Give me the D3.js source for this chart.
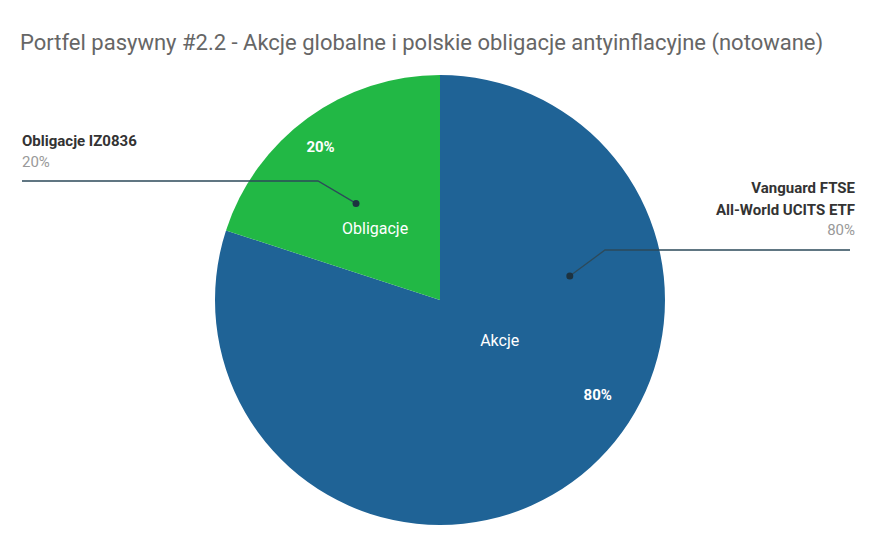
<!DOCTYPE html>
<html><head><meta charset="utf-8">
<script src="https://cdn.jsdelivr.net/npm/d3@7"></script>
<style>body{margin:0;background:#fff}text{font-family:Roboto,sans-serif}</style>
</head><body>
<svg id="chart" width="880" height="540"></svg>
<script>
// chart data
const categories = ["Akcje", "Obligacje"];
const values = [80, 20];
const legendNames = [["Vanguard FTSE", "All-World UCITS ETF"], ["Obligacje IZ0836"]];
const colors = ["#1f6396", "#22b845"];

const svg = d3.select("#chart");
const cx = 440, cy = 300, r = 225;

svg.append("text").attr("x", 20).attr("y", 50)
  .attr("font-size", 22).attr("fill", "#666")
  .text("Portfel pasywny #2.2 - Akcje globalne i polskie obligacje antyinflacyjne (notowane)");

const pie = d3.pie().sort(null).value(d => d)(values);
const arc = d3.arc().innerRadius(0).outerRadius(r);
const g = svg.append("g").attr("transform", `translate(${cx},${cy})`);

g.selectAll("path").data(pie).join("path")
  .attr("d", arc).attr("fill", (d, i) => colors[i]);

// polar helper, angle in degrees clockwise from top
const polar = (deg, rad) => [Math.sin(deg * Math.PI / 180) * rad, -Math.cos(deg * Math.PI / 180) * rad];

// inner labels
const inner = [
  { name: [124, 72], pct: [121, 184] },
  { name: [-42, 97], pct: [-38, 194] }
];
pie.forEach((d, i) => {
  const [nx, ny] = polar(...inner[i].name);
  const [px, py] = polar(...inner[i].pct);
  g.append("text").attr("x", nx).attr("y", ny + 6).attr("text-anchor", "middle")
    .attr("fill", "#fff").attr("font-size", 16).text(categories[i]);
  g.append("text").attr("x", px).attr("y", py + 5).attr("text-anchor", "middle")
    .attr("fill", "#fff").attr("font-size", 15).attr("font-weight", "bold").text(d3.format(".0f")(values[i]) + "%");
});

// callouts
const callouts = [
  { dot: [79.5, 132], knee: [605, 250], end: 850, side: 1, ty: 193 },
  { dot: [-41, 128], knee: [318, 181], end: 22, side: -1, ty: 146 }
];
callouts.forEach((c, i) => {
  const [dx, dy] = polar(...c.dot);
  svg.append("polyline")
    .attr("points", `${cx + dx},${cy + dy} ${c.knee[0]},${c.knee[1]} ${c.end},${c.knee[1]}`)
    .attr("fill", "none").attr("stroke", "#2d4a5a").attr("stroke-width", 1.3);
  svg.append("circle").attr("cx", cx + dx).attr("cy", cy + dy).attr("r", 3.5).attr("fill", "#1d3340");
  const tx = c.side > 0 ? 855 : 22;
  const anchor = c.side > 0 ? "end" : "start";
  const names = legendNames[i];
  names.forEach((n, j) => {
    svg.append("text").attr("x", tx).attr("y", c.ty + j * 22).attr("text-anchor", anchor)
      .attr("font-size", 15).attr("font-weight", "bold").attr("fill", "#333").text(n);
  });
  svg.append("text").attr("x", tx).attr("y", c.ty + names.length * 21).attr("text-anchor", anchor)
    .attr("font-size", 15).attr("fill", "#999").text(values[i] + "%");
});
</script>
</body></html>
